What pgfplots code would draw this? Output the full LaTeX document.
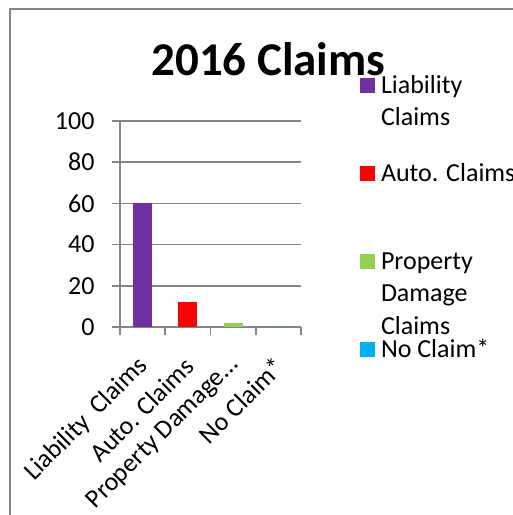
\documentclass[border=0pt]{standalone}
\usepackage{pgfplots}
\pgfplotsset{compat=1.18}
\usepackage{fontspec}
\setmainfont{Carlito}
\definecolor{liab}{RGB}{112,48,160}
\definecolor{autoc}{RGB}{255,0,0}
\definecolor{prop}{RGB}{146,208,80}
\definecolor{noclaim}{RGB}{0,176,240}
\definecolor{gridgray}{RGB}{134,134,134}
\newcommand{\lentry}[1]{\parbox[t]{5cm}{\fontsize{26bp}{32.5bp}\selectfont #1}}
\begin{document}
\begin{tikzpicture}
\useasboundingbox (0,0) rectangle (513bp,-515bp);
\draw[gridgray, line width=2bp] (10bp,-540bp) -- (10bp,-9bp) -- (540bp,-9bp);
\begin{axis}[
  at={(120bp,-327bp)}, anchor=south west,
  scale only axis, width=181bp, height=206bp,
  xmin=-0.5, xmax=3.5, ymin=0, ymax=100,
  ybar, bar width=19bp, bar shift=0pt,
  axis x line*=bottom, axis y line*=left,
  axis line style={gridgray, line width=1.75bp, -},
  ytick={0,20,...,100}, ymajorgrids,
  grid style={gridgray, line width=1.75bp},
  xtick={0,1,2,3},
  xticklabels={Liability\hspace{0.45em}Claims, Auto. Claims, Property Damage…, No Claim*},
  minor xtick={-0.5,0.5,1.5,2.5,3.5},
  tick align=outside, major tick length=8bp, minor tick length=8bp,
  major x tick style={draw=none},
  minor x tick style={gridgray, line width=1.75bp},
  major y tick style={gridgray, line width=1.75bp},
  /pgf/number format/assume math mode=true,
  tick label style={font=\fontsize{26bp}{32bp}\selectfont},
  yticklabel style={xshift=-14bp},
  xticklabel style={rotate=45, anchor=east, inner sep=0pt, xshift=-18bp, yshift=-20bp},
  title={2016 Claims},
  title style={font=\bfseries\fontsize{47bp}{50bp}\selectfont, at={(0.820,1.19)}, anchor=base},
  legend image code/.code={\fill[#1] (0bp,0bp) rectangle (15bp,15bp);},
  legend style={at={(1.326,1.233)}, anchor=north west, draw=none, fill=none,
    inner sep=0pt, outer sep=0pt, row sep=0pt, column sep=6bp,
    font=\fontsize{26bp}{32.5bp}\selectfont,
    nodes={inner sep=0pt, text height=20bp, text depth=68bp},
    cells={anchor=base west}},
]
\addplot[fill=liab, draw=none] coordinates {(0,60)};
\addplot[fill=autoc, draw=none] coordinates {(1,12)};
\addplot[fill=prop, draw=none] coordinates {(2,2)};
\addplot[fill=noclaim, draw=none] coordinates {(3,0)};
\legend{\lentry{Liability\\Claims}, \lentry{Auto. Claims}, \lentry{Property\\Damage\\Claims}, \lentry{No Claim*}}
\end{axis}
\end{tikzpicture}
\end{document}
